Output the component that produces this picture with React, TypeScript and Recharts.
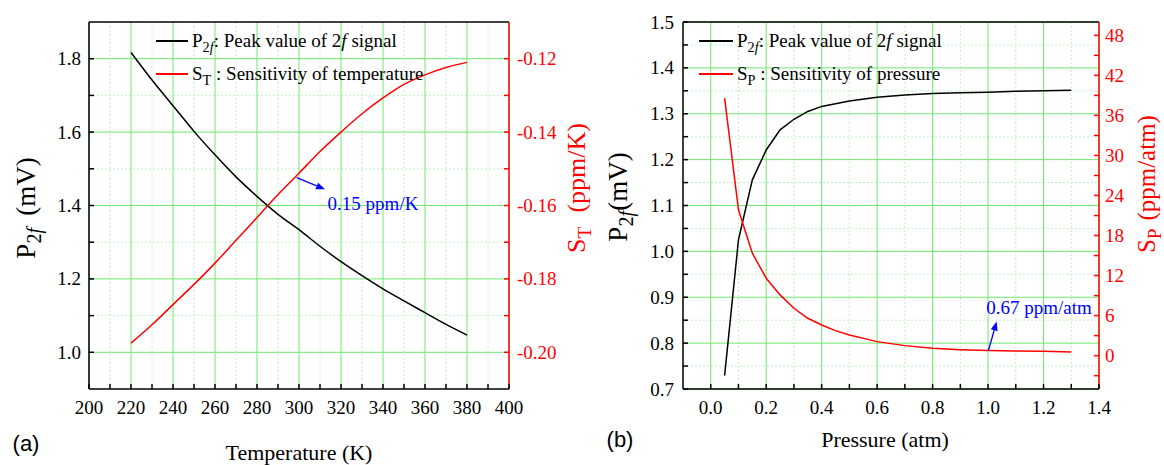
import React from 'react';
import { LineChart, Line, XAxis, YAxis, CartesianGrid, Legend, ReferenceLine } from 'recharts';

// (a) temperature sweep
const temperatures = [220, 230, 240, 250, 260, 270, 280, 290, 300, 310, 320, 330, 340, 350, 360, 370, 380];
const p2fVsTemp = [1.817, 1.742, 1.672, 1.602, 1.538, 1.478, 1.425, 1.376, 1.334, 1.289, 1.247, 1.209, 1.173, 1.14, 1.108, 1.076, 1.047];
const sensTemp = [-0.1975, -0.1925, -0.187, -0.1815, -0.1757, -0.1695, -0.1633, -0.157, -0.1512, -0.1453, -0.14, -0.135, -0.1307, -0.127, -0.1244, -0.1224, -0.121];

const tempXTicks = [200, 210, 220, 230, 240, 250, 260, 270, 280, 290, 300, 310, 320, 330, 340, 350, 360, 370, 380, 390, 400];
const tempXLabels = [200, 220, 240, 260, 280, 300, 320, 340, 360, 380, 400];
const tempXMinor = [210, 230, 250, 270, 290, 310, 330, 350, 370, 390];
const p2fTempTicks = [1.0, 1.1, 1.2, 1.3, 1.4, 1.5, 1.6, 1.7, 1.8];
const p2fTempLabels = [1.0, 1.2, 1.4, 1.6, 1.8];
const p2fTempMinor = [1.1, 1.3, 1.5, 1.7];
const sensTempTicks = [-0.2, -0.19, -0.18, -0.17, -0.16, -0.15, -0.14, -0.13, -0.12];
const sensTempLabels = [-0.2, -0.18, -0.16, -0.14, -0.12];
const tempArrow = [{ x: 298.9, y: -0.1524 }, { x: 312.4, y: -0.1556 }];

// (b) pressure sweep
const pressures = [0.05, 0.1, 0.15, 0.2, 0.25, 0.3, 0.35, 0.4, 0.45, 0.5, 0.6, 0.7, 0.8, 0.9, 1.0, 1.1, 1.2, 1.3];
const p2fVsPress = [0.729, 1.025, 1.156, 1.221, 1.265, 1.288, 1.305, 1.316, 1.322, 1.328, 1.336, 1.341, 1.344, 1.346, 1.347, 1.349, 1.35, 1.351];
const sensPress = [38.6, 21.85, 15.35, 11.6, 9.1, 7.1, 5.6, 4.6, 3.75, 3.1, 2.1, 1.5, 1.1, 0.9, 0.78, 0.7, 0.65, 0.55];

const pressXTicks = [0, 0.1, 0.2, 0.3, 0.4, 0.5, 0.6, 0.7, 0.8, 0.9, 1.0, 1.1, 1.2, 1.3, 1.4];
const pressXLabels = [0, 0.2, 0.4, 0.6, 0.8, 1.0, 1.2, 1.4];
const pressXMinor = [-0.1, 0.1, 0.3, 0.5, 0.7, 0.9, 1.1, 1.3];
const p2fPressTicks = [0.7, 0.75, 0.8, 0.85, 0.9, 0.95, 1.0, 1.05, 1.1, 1.15, 1.2, 1.25, 1.3, 1.35, 1.4, 1.45, 1.5];
const p2fPressLabels = [0.7, 0.8, 0.9, 1.0, 1.1, 1.2, 1.3, 1.4, 1.5];
const p2fPressMinor = [0.75, 0.85, 0.95, 1.05, 1.15, 1.25, 1.35, 1.45];
const sensPressTicks = [-3, 0, 3, 6, 9, 12, 15, 18, 21, 24, 27, 30, 33, 36, 39, 42, 45, 48];
const sensPressLabels = [0, 6, 12, 18, 24, 30, 36, 42, 48];
const pressArrow = [{ x: 1.001, y: 0.74 }, { x: 1.031, y: 5.1 }];

const tempData = temperatures.map((t, i) => ({ t, p2f: p2fVsTemp[i], s: sensTemp[i] }));
const pressData = pressures.map((p, i) => ({ p, p2f: p2fVsPress[i], s: sensPress[i] }));

const SERIF = '"Liberation Serif", "Times New Roman", Times, serif';
const SANS = '"Liberation Sans", Arial, sans-serif';
const GREEN = '#6ee86e';
const GREEN_MINOR = '#c4f2c4';
const RED = '#ff0000';
const BLUE = '#0000ff';

const Sub = ({ children }: any) => (
  <span style={{ fontSize: '0.75em', position: 'relative', top: '0.32em' }}>{children}</span>
);
const P2f = () => (
  <>
    P<Sub>2<i>f</i></Sub>
  </>
);

const makeTick = (side: string, labels: number[], fmt: (v: number) => string, color: string, gap: number) => (props: any) => {
  const { x, y, payload } = props;
  const v = payload.value;
  const show = labels.includes(v);
  const common = { fill: color, fontSize: 19, style: { fontFamily: SERIF } };
  if (side === 'bottom') {
    return (
      <g>
        <line x1={x} y1={y} x2={x} y2={y - 5} stroke="#000" strokeWidth={1.5} />
        {show && <text x={x} y={y + 25} textAnchor="middle" {...common}>{fmt(v)}</text>}
      </g>
    );
  }
  if (side === 'left') {
    return (
      <g>
        <line x1={x} y1={y} x2={x + 5} y2={y} stroke={color} strokeWidth={1.5} />
        {show && <text x={x - gap} y={y + 6.5} textAnchor="end" {...common}>{fmt(v)}</text>}
      </g>
    );
  }
  return (
    <g>
      <line x1={x} y1={y} x2={x - 5} y2={y} stroke={color} strokeWidth={1.5} />
      {show && <text x={x + gap} y={y + 6.5} textAnchor="start" {...common}>{fmt(v)}</text>}
    </g>
  );
};

const arrowShape = (props: any) => {
  const { x1, y1, x2, y2 } = props;
  if (x1 == null || x2 == null) return <g />;
  const ang = Math.atan2(y2 - y1, x2 - x1);
  const len = 9;
  const w = 3.5;
  const bx = x2 - len * Math.cos(ang);
  const by = y2 - len * Math.sin(ang);
  const px = -Math.sin(ang) * w;
  const py = Math.cos(ang) * w;
  return (
    <g>
      <line x1={x1} y1={y1} x2={bx} y2={by} stroke={BLUE} strokeWidth={1.3} />
      <polygon points={`${x2},${y2} ${bx + px},${by + py} ${bx - px},${by - py}`} fill={BLUE} />
    </g>
  );
};

const makeLegend = (labels: Record<string, any>, lineWidth: number) => (props: any) => (
  <div style={{ fontFamily: SERIF, fontSize: 19, color: '#000', lineHeight: 1 }}>
    {(props.payload || []).map((entry: any) => (
      <div key={entry.dataKey} style={{ display: 'flex', alignItems: 'center', height: 33, whiteSpace: 'nowrap' }}>
        <span style={{ display: 'inline-block', width: lineWidth, borderTop: `2px solid ${entry.color}`, marginRight: 4 }} />
        <span>{labels[entry.dataKey]}</span>
      </div>
    ))}
  </div>
);

const Txt = ({ x, y, rotate, style, children }: any) => (
  <div
    style={{
      position: 'absolute',
      left: x,
      top: y,
      transform: `translate(-50%, -50%)${rotate ? ' rotate(-90deg)' : ''}`,
      whiteSpace: 'nowrap',
      lineHeight: 1,
      fontFamily: SERIF,
      ...style,
    }}
  >
    {children}
  </div>
);

const tempLegend = {
  p2f: (
    <>
      <P2f />: Peak value of 2<i>f</i> signal
    </>
  ),
  s: (
    <>
      S<Sub>T</Sub> : Sensitivity of temperature
    </>
  ),
};

const pressLegend = {
  p2f: (
    <>
      <P2f />: Peak value of 2<i>f</i> signal
    </>
  ),
  s: (
    <>
      S<Sub>P</Sub> : Sensitivity of pressure
    </>
  ),
};

const axisLine = { stroke: '#000', strokeWidth: 1.5 };
const redAxisLine = { stroke: RED, strokeWidth: 1.5 };

const TemperatureChart = () => (
  <LineChart width={600} height={465} data={tempData} margin={{ top: 22, right: 0, bottom: 0, left: 0 }}>
    <CartesianGrid yAxisId="l" verticalValues={tempXMinor} horizontalValues={p2fTempMinor} stroke={GREEN_MINOR} strokeDasharray="2 2" />
    <CartesianGrid yAxisId="l" verticalValues={tempXLabels} horizontalValues={p2fTempLabels} stroke={GREEN} />
    <XAxis
      dataKey="t"
      type="number"
      domain={[200, 400]}
      ticks={tempXTicks}
      interval={0}
      height={76}
      tickSize={0}
      tickMargin={0}
      axisLine={axisLine}
      tickLine={false}
      tick={makeTick('bottom', tempXLabels, (v) => String(v), '#000', 0)}
    />
    <YAxis
      yAxisId="l"
      orientation="left"
      width={89}
      domain={[0.9, 1.9]}
      ticks={p2fTempTicks}
      interval={0}
      tickSize={0}
      tickMargin={0}
      axisLine={axisLine}
      tickLine={false}
      tick={makeTick('left', p2fTempLabels, (v) => v.toFixed(1), '#000', 8)}
    />
    <YAxis
      yAxisId="r"
      orientation="right"
      width={91}
      domain={[-0.21, -0.11]}
      ticks={sensTempTicks}
      interval={0}
      tickSize={0}
      tickMargin={0}
      axisLine={redAxisLine}
      tickLine={false}
      tick={makeTick('right', sensTempLabels, (v) => v.toFixed(2), RED, 8)}
    />
    <ReferenceLine yAxisId="l" y={1.9} stroke="#000" strokeWidth={1.5} />
    <Line yAxisId="l" dataKey="p2f" type="monotone" stroke="#000" strokeWidth={1.5} dot={false} isAnimationActive={false} />
    <Line yAxisId="r" dataKey="s" type="monotone" stroke={RED} strokeWidth={1.5} dot={false} isAnimationActive={false} />
    <ReferenceLine yAxisId="r" segment={tempArrow} shape={arrowShape} />
    <Legend
      layout="vertical"
      align="center"
      verticalAlign="middle"
      content={makeLegend(tempLegend, 32)}
      wrapperStyle={{ left: 156, top: 24, width: 'auto', height: 'auto' }}
    />
  </LineChart>
);

const PressureChart = () => (
  <LineChart width={564} height={465} data={pressData} margin={{ top: 22, right: 0, bottom: 0, left: 0 }}>
    <CartesianGrid yAxisId="l" verticalValues={pressXMinor} horizontalValues={p2fPressMinor} stroke={GREEN_MINOR} strokeDasharray="2 2" />
    <CartesianGrid yAxisId="l" verticalValues={pressXLabels} horizontalValues={p2fPressLabels} stroke={GREEN} />
    <XAxis
      dataKey="p"
      type="number"
      domain={[-0.1, 1.4]}
      ticks={pressXTicks}
      interval={0}
      height={76}
      tickSize={0}
      tickMargin={0}
      axisLine={axisLine}
      tickLine={false}
      tick={makeTick('bottom', pressXLabels, (v) => v.toFixed(1), '#000', 0)}
    />
    <YAxis
      yAxisId="l"
      orientation="left"
      width={83}
      domain={[0.7, 1.5]}
      ticks={p2fPressTicks}
      interval={0}
      tickSize={0}
      tickMargin={0}
      axisLine={axisLine}
      tickLine={false}
      tick={makeTick('left', p2fPressLabels, (v) => v.toFixed(1), '#000', 9)}
    />
    <YAxis
      yAxisId="r"
      orientation="right"
      width={65}
      domain={[-5, 50]}
      ticks={sensPressTicks}
      interval={0}
      tickSize={0}
      tickMargin={0}
      axisLine={redAxisLine}
      tickLine={false}
      tick={makeTick('right', sensPressLabels, (v) => String(v), RED, 6)}
    />
    <ReferenceLine yAxisId="l" y={1.5} stroke="#000" strokeWidth={1.5} />
    <Line yAxisId="l" dataKey="p2f" type="linear" stroke="#000" strokeWidth={1.5} dot={false} isAnimationActive={false} />
    <Line yAxisId="r" dataKey="s" type="linear" stroke={RED} strokeWidth={1.5} dot={false} isAnimationActive={false} />
    <ReferenceLine yAxisId="r" segment={pressArrow} shape={arrowShape} />
    <Legend
      layout="vertical"
      align="center"
      verticalAlign="middle"
      content={makeLegend(pressLegend, 34)}
      wrapperStyle={{ left: 99, top: 24, width: 'auto', height: 'auto' }}
    />
  </LineChart>
);

export default function App() {
  return (
    <div style={{ position: 'absolute', left: 0, top: 0, width: 1164, height: 465, background: '#fff', overflow: 'hidden' }}>
      <div style={{ position: 'absolute', left: 0, top: 0 }}>
        <TemperatureChart />
      </div>
      <div style={{ position: 'absolute', left: 600, top: 0 }}>
        <PressureChart />
      </div>

      <Txt x={26} y={208} rotate style={{ fontSize: 27 }}>
        <P2f />
        <span style={{ marginLeft: 12 }}>(mV)</span>
      </Txt>
      <Txt x={577} y={188} rotate style={{ fontSize: 26, color: RED }}>
        S<Sub>T</Sub>
        <span style={{ marginLeft: 14 }}>(ppm/K)</span>
      </Txt>
      <Txt x={299} y={453} style={{ fontSize: 22 }}>Temperature (K)</Txt>
      <Txt x={373} y={203} style={{ fontSize: 19, color: BLUE }}>0.15 ppm/K</Txt>
      <Txt x={26} y={444} style={{ fontSize: 22, fontFamily: SANS }}>(a)</Txt>

      <Txt x={618} y={197} rotate style={{ fontSize: 27 }}>
        <P2f />
        (mV)
      </Txt>
      <Txt x={1146} y={184} rotate style={{ fontSize: 25, color: RED }}>
        S<Sub>P</Sub>
        <span style={{ marginLeft: 8 }}>(ppm/atm)</span>
      </Txt>
      <Txt x={885} y={440} style={{ fontSize: 22 }}>Pressure (atm)</Txt>
      <Txt x={1039} y={307} style={{ fontSize: 19, color: BLUE }}>0.67 ppm/atm</Txt>
      <Txt x={620} y={440} style={{ fontSize: 22, fontFamily: SANS }}>(b)</Txt>
    </div>
  );
}
